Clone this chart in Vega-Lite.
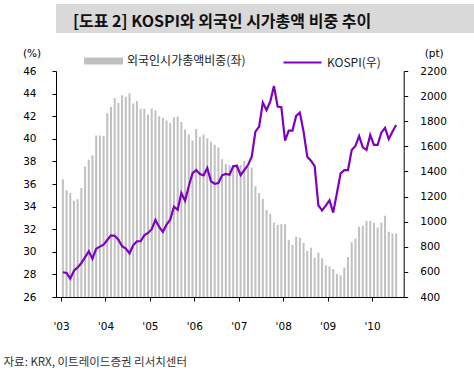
{
  "$schema": "https://vega.github.io/schema/vega-lite/v6.json",
  "padding": {"left": 3, "top": 4, "right": 0, "bottom": 0},
  "background": "white",
  "spacing": 8,
  "config": {"view": {"stroke": null}, "font": "DejaVu Sans"},
  "resolve": {
    "scale": {"color": "independent", "stroke": "independent"},
    "legend": {"color": "independent", "stroke": "independent"}
  },
  "datasets": {
    "series": [
      {"m":0,"share":36.4,"kospi":597},{"m":1,"share":35.45,"kospi":591},{"m":2,"share":35.2,"kospi":546},{"m":3,"share":34.5,"kospi":610},
      {"m":4,"share":34.65,"kospi":636},{"m":5,"share":35.65,"kospi":671},{"m":6,"share":37.55,"kospi":716},{"m":7,"share":38.15,"kospi":764},
      {"m":8,"share":38.55,"kospi":705},{"m":9,"share":40.3,"kospi":785},{"m":10,"share":40.3,"kospi":801},{"m":11,"share":40.25,"kospi":817},
      {"m":12,"share":42.27,"kospi":854},{"m":13,"share":42.82,"kospi":891},{"m":14,"share":43.6,"kospi":888},{"m":15,"share":43.18,"kospi":856},
      {"m":16,"share":43.85,"kospi":804},{"m":17,"share":43.72,"kospi":785},{"m":18,"share":44.0,"kospi":748},{"m":19,"share":43.12,"kospi":812},
      {"m":20,"share":43.35,"kospi":844},{"m":21,"share":42.65,"kospi":844},{"m":22,"share":42.65,"kospi":891},{"m":23,"share":42.15,"kospi":910},
      {"m":24,"share":42.68,"kospi":940},{"m":25,"share":42.5,"kospi":1014},{"m":26,"share":42.0,"kospi":958},{"m":27,"share":41.87,"kospi":918},
      {"m":28,"share":41.62,"kospi":976},{"m":29,"share":41.4,"kospi":1016},{"m":30,"share":41.9,"kospi":1120},{"m":31,"share":41.98,"kospi":1095},
      {"m":32,"share":41.48,"kospi":1228},{"m":33,"share":40.83,"kospi":1167},{"m":34,"share":40.4,"kospi":1282},{"m":35,"share":39.85,"kospi":1385},
      {"m":36,"share":40.87,"kospi":1412},{"m":37,"share":40.17,"kospi":1380},{"m":38,"share":40.38,"kospi":1369},{"m":39,"share":40.05,"kospi":1427},
      {"m":40,"share":39.73,"kospi":1321},{"m":41,"share":39.48,"kospi":1302},{"m":42,"share":39.22,"kospi":1308},{"m":43,"share":38.2,"kospi":1369},
      {"m":44,"share":37.77,"kospi":1380},{"m":45,"share":37.66,"kospi":1374},{"m":46,"share":37.65,"kospi":1441},{"m":47,"share":37.75,"kospi":1445},
      {"m":48,"share":37.7,"kospi":1370},{"m":49,"share":38.06,"kospi":1411},{"m":50,"share":37.55,"kospi":1451},{"m":51,"share":37.47,"kospi":1518},
      {"m":52,"share":35.8,"kospi":1717},{"m":53,"share":35.2,"kospi":1757},{"m":54,"share":34.67,"kospi":1948},{"m":55,"share":33.7,"kospi":1889},
      {"m":56,"share":33.35,"kospi":1956},{"m":57,"share":32.6,"kospi":2081},{"m":58,"share":32.4,"kospi":1916},{"m":59,"share":32.43,"kospi":1911},
      {"m":60,"share":32.43,"kospi":1645},{"m":61,"share":31.04,"kospi":1725},{"m":62,"share":30.6,"kospi":1725},{"m":63,"share":31.34,"kospi":1842},
      {"m":64,"share":31.25,"kospi":1868},{"m":65,"share":30.8,"kospi":1717},{"m":66,"share":30.07,"kospi":1518},{"m":67,"share":30.36,"kospi":1486},
      {"m":68,"share":29.48,"kospi":1443},{"m":69,"share":29.92,"kospi":1130},{"m":70,"share":29.42,"kospi":1090},{"m":71,"share":28.8,"kospi":1128},
      {"m":72,"share":28.7,"kospi":1170},{"m":73,"share":28.48,"kospi":1072},{"m":74,"share":28.04,"kospi":1226},{"m":75,"share":27.93,"kospi":1385},
      {"m":76,"share":28.6,"kospi":1411},{"m":77,"share":29.53,"kospi":1411},{"m":78,"share":30.85,"kospi":1571},{"m":79,"share":31.15,"kospi":1603},
      {"m":80,"share":32.22,"kospi":1682},{"m":81,"share":32.31,"kospi":1592},{"m":82,"share":32.73,"kospi":1571},{"m":83,"share":32.73,"kospi":1690},
      {"m":84,"share":32.58,"kospi":1611},{"m":85,"share":32.15,"kospi":1611},{"m":86,"share":32.58,"kospi":1709},{"m":87,"share":33.18,"kospi":1748},
      {"m":88,"share":31.78,"kospi":1658},{"m":89,"share":31.63,"kospi":1717},{"m":90,"share":31.63,"kospi":1770}
    ]
  },
  "vconcat": [
    {
      "width": 467,
      "height": 29,
      "view": {"fill": "#d9d9d9", "stroke": null},
      "title": {
        "text": "[도표 2] KOSPI와 외국인 시가총액 비중 추이",
        "anchor": "start",
        "orient": "top",
        "frame": "group",
        "offset": -26,
        "dx": 17,
        "font": "Noto Sans CJK KR",
        "fontSize": 16,
        "fontWeight": "bold",
        "color": "#111111"
      },
      "data": {"values": []},
      "mark": "point",
      "encoding": {}
    },
    {
      "width": 347.7,
      "height": 226,
      "data": {"name": "series"},
      "resolve": {"scale": {"y": "independent"}},
      "layer": [
        {
          "mark": {"type": "bar", "width": 2, "clip": true},
          "encoding": {
            "x": {
              "field": "m",
              "type": "quantitative",
              "scale": {"domain": [-0.5, 90.69], "nice": false, "zero": false},
              "axis": {
                "values": [-0.5, 11.5, 23.5, 35.5, 47.5, 59.5, 71.5, 83.5],
                "labelExpr": "\"'\" + format(3 + (datum.value + 0.5) / 12, '02d')",
                "grid": false,
                "domainColor": "#000000",
                "tickColor": "#000000",
                "tickSize": 4,
                "labelPadding": 20,
                "labelFontSize": 10.5,
                "labelColor": "#000000",
                "labelFont": "DejaVu Sans",
                "title": "자료: KRX, 이트레이드증권 리서치센터",
                "titleX": -53,
                "titleY": 65,
                "titleAlign": "left",
                "titleAnchor": "start",
                "titleBaseline": "middle",
                "titleFont": "Noto Sans CJK KR",
                "titleFontSize": 11.5,
                "titleFontWeight": "normal",
                "titleColor": "#333333"
              }
            },
            "y": {
              "field": "share",
              "type": "quantitative",
              "scale": {"domain": [26, 46], "nice": false, "zero": false},
              "axis": {
                "orient": "left",
                "values": [26, 28, 30, 32, 34, 36, 38, 40, 42, 44, 46],
                "grid": false,
                "domainColor": "#000000",
                "tickColor": "#000000",
                "tickSize": 4,
                "labelPadding": 16,
                "labelFontSize": 10.5,
                "labelColor": "#000000",
                "labelFont": "DejaVu Sans",
                "title": "(%)",
                "titleAngle": 0,
                "titleX": -24.5,
                "titleY": -18,
                "titleAlign": "center",
                "titleBaseline": "middle",
                "titleFont": "DejaVu Sans",
                "titleFontSize": 10.5,
                "titleFontWeight": "normal",
                "titleColor": "#000000"
              }
            },
            "color": {
              "datum": "외국인시가총액비중(좌)",
              "scale": {"range": ["#c0c0c0"]},
              "legend": {
                "orient": "none",
                "legendX": 28,
                "legendY": -29.5,
                "padding": 0,
                "title": null,
                "symbolType": "M-1,-0.18H1V0.18H-1Z",
                "symbolSize": 1521,
                "symbolStrokeWidth": 0,
                "labelFont": "Noto Sans CJK KR",
                "labelFontSize": 12,
                "labelColor": "#222222",
                "labelOffset": 4
              }
            }
          }
        },
        {
          "mark": {"type": "line", "strokeWidth": 2.2},
          "encoding": {
            "x": {"field": "m", "type": "quantitative"},
            "y": {
              "field": "kospi",
              "type": "quantitative",
              "scale": {"domain": [400, 2200], "nice": false, "zero": false},
              "axis": {
                "orient": "right",
                "values": [400, 600, 800, 1000, 1200, 1400, 1600, 1800, 2000, 2200],
                "format": "d",
                "grid": false,
                "domainColor": "#000000",
                "tickColor": "#000000",
                "tickSize": 4,
                "labelPadding": 12,
                "labelFontSize": 10.5,
                "labelColor": "#000000",
                "labelFont": "DejaVu Sans",
                "title": "(pt)",
                "titleAngle": 0,
                "titleX": 30,
                "titleY": -18,
                "titleAlign": "center",
                "titleBaseline": "middle",
                "titleFont": "DejaVu Sans",
                "titleFontSize": 10.5,
                "titleFontWeight": "normal",
                "titleColor": "#000000"
              }
            },
            "stroke": {
              "datum": "KOSPI(우)",
              "scale": {"range": ["#8000c0"]},
              "legend": {
                "orient": "none",
                "legendX": 226,
                "legendY": -29,
                "padding": 0,
                "title": null,
                "symbolType": "stroke",
                "symbolSize": 1444,
                "symbolStrokeWidth": 2.2,
                "labelFont": "Noto Sans CJK KR",
                "labelFontSize": 12,
                "labelColor": "#222222",
                "labelOffset": 4
              }
            }
          }
        }
      ]
    }
  ]
}
